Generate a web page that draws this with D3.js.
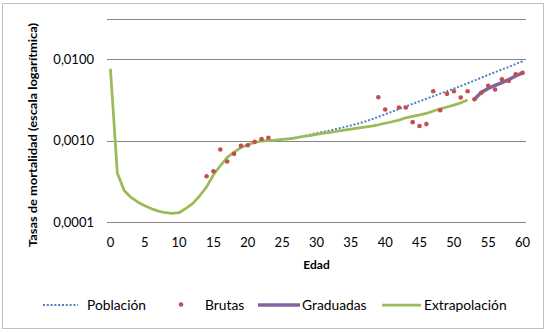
<!DOCTYPE html>
<html><head><meta charset="utf-8">
<script src="https://cdn.jsdelivr.net/npm/d3@7"></script>
<style>body{margin:0;background:#fff}svg{display:block}text{font-family:Lato,"Open Sans",sans-serif;fill:#000}</style>
</head><body><svg id="c" width="550" height="332"></svg>
<script>
// Data (mortality rates)
const extrapAges = d3.range(0, 53);
const extrapVals = [0.0076,0.00040,0.000244,0.00020,0.000175,0.000158,0.000145,0.000136,0.000130,0.000128,0.000130,0.000147,0.000169,0.00021,0.00027,0.00038,0.00049,0.00062,0.00072,0.00082,0.00089,0.000945,0.00098,0.00100,0.00101,0.00103,0.00105,0.00108,0.00112,0.00115,0.00119,0.00123,0.00126,0.00130,0.00134,0.00138,0.00142,0.00146,0.00150,0.00156,0.00163,0.00170,0.00178,0.00190,0.00198,0.00206,0.00215,0.00230,0.00245,0.00258,0.00272,0.00290,0.00315];
const poblAges = d3.range(24, 61);
const poblVals = [0.00100,0.00103,0.00106,0.00109,0.00113,0.00118,0.00123,0.00128,0.00133,0.00139,0.00146,0.00153,0.00161,0.00170,0.00182,0.00195,0.00210,0.00226,0.00243,0.00262,0.00282,0.00303,0.00326,0.00350,0.00376,0.00404,0.00434,0.00467,0.00503,0.00545,0.00590,0.00640,0.00690,0.00745,0.00800,0.00870,0.00940];
const brutasAges = [14,15,16,17,18,19,20,21,22,23,39,40,42,43,44,45,46,47,48,49,50,51,52,53,54,55,56,57,58,59,60];
const brutasVals = [0.000365,0.00042,0.000775,0.000553,0.000686,0.00086,0.000876,0.000963,0.00104,0.00108,0.00340,0.00240,0.00254,0.00254,0.00168,0.00151,0.00159,0.00403,0.00235,0.00374,0.00403,0.00337,0.00403,0.00321,0.00385,0.00469,0.00422,0.00565,0.00540,0.00651,0.00677];
const gradAges = [53,54,55,56,57,58,59,60];
const gradVals = [0.00321,0.00390,0.00435,0.00475,0.00515,0.00560,0.00620,0.00675];
const xTicks = [0,5,10,15,20,25,30,35,40,45,50,55,60];
const yTicks = [0.0001,0.001,0.01];
const yTickLabels = ["0,0001","0,0010","0,0100"];
const yTop = 0.031;

const svg = d3.select("#c");
svg.append("rect").attr("x",2.5).attr("y",3.5).attr("width",541).attr("height",325)
  .attr("fill","#fff").attr("stroke","#BFBFBF").attr("stroke-width",1);

const x = d3.scaleLinear().domain([-0.5,60.5]).range([107,526]);
const y = d3.scaleLog().domain([0.0001,yTop]).range([222,19]);

// gridlines
const grid = yTicks.concat([yTop]);
svg.append("g").selectAll("line").data(grid).join("line")
  .attr("x1",107).attr("x2",526)
  .attr("y1",d=>Math.round(y(d))+0.5).attr("y2",d=>Math.round(y(d))+0.5)
  .attr("stroke","#868686").attr("stroke-width",1);

// y tick labels
svg.append("g").selectAll("text").data(yTicks).join("text")
  .attr("x",94).attr("y",d=>y(d)+4.5).attr("text-anchor","end")
  .attr("font-size",13).text((d,i)=>yTickLabels[i]);

// x tick labels
svg.append("g").selectAll("text").data(xTicks).join("text")
  .attr("x",d=>x(d)).attr("y",247).attr("text-anchor","middle")
  .attr("font-size",13).text(d=>d);

// axis titles
svg.append("text").attr("x",316.5).attr("y",269).attr("text-anchor","middle")
  .attr("font-size",12).attr("font-weight","bold").text("Edad");
svg.append("text").attr("transform","translate(37,135) rotate(-90)")
  .attr("text-anchor","middle").attr("font-size",12).attr("font-weight","bold")
  .attr("textLength",224).attr("lengthAdjust","spacingAndGlyphs")
  .text("Tasas de mortalidad (escala logarítmica)");

const line = d3.line().x(d=>x(d[0])).y(d=>y(d[1]));
const zip = (a,b)=>a.map((v,i)=>[v,b[i]]);

// Población dotted
svg.append("path").datum(zip(poblAges,poblVals)).attr("d",line)
  .attr("fill","none").attr("stroke","#4F81BD").attr("stroke-width",2).attr("stroke-dasharray","2,1.8");
// Extrapolación
svg.append("path").datum(zip(extrapAges,extrapVals)).attr("d",line)
  .attr("fill","none").attr("stroke","#9BBB59").attr("stroke-width",2.75).attr("stroke-linejoin","round");
// Graduadas
svg.append("path").datum(zip(gradAges,gradVals)).attr("d",line)
  .attr("fill","none").attr("stroke","#8064A2").attr("stroke-width",3.5).attr("stroke-linejoin","round").attr("stroke-linecap","round");
// Brutas
svg.append("g").selectAll("circle").data(zip(brutasAges,brutasVals)).join("circle")
  .attr("cx",d=>x(d[0])).attr("cy",d=>y(d[1])).attr("r",2.3).attr("fill","#C0504D");

// legend
const ly = 305;
const lg = svg.append("g");
lg.append("line").attr("x1",43).attr("x2",78).attr("y1",ly).attr("y2",ly)
  .attr("stroke","#4F81BD").attr("stroke-width",2).attr("stroke-dasharray","2,1.8");
lg.append("text").attr("x",87).attr("y",ly+4.5).attr("font-size",13.8).text("Población");
lg.append("circle").attr("cx",181).attr("cy",ly-0.5).attr("r",2.3).attr("fill","#C0504D");
lg.append("text").attr("x",205).attr("y",ly+4.5).attr("font-size",13.8).text("Brutas");
lg.append("line").attr("x1",258).attr("x2",300).attr("y1",ly).attr("y2",ly)
  .attr("stroke","#8064A2").attr("stroke-width",3.5);
lg.append("text").attr("x",302).attr("y",ly+4.5).attr("font-size",13.8).text("Graduadas");
lg.append("line").attr("x1",382).attr("x2",421).attr("y1",ly).attr("y2",ly)
  .attr("stroke","#9BBB59").attr("stroke-width",2.75);
lg.append("text").attr("x",424).attr("y",ly+4.5).attr("font-size",13.8).text("Extrapolación");
</script></body></html>
